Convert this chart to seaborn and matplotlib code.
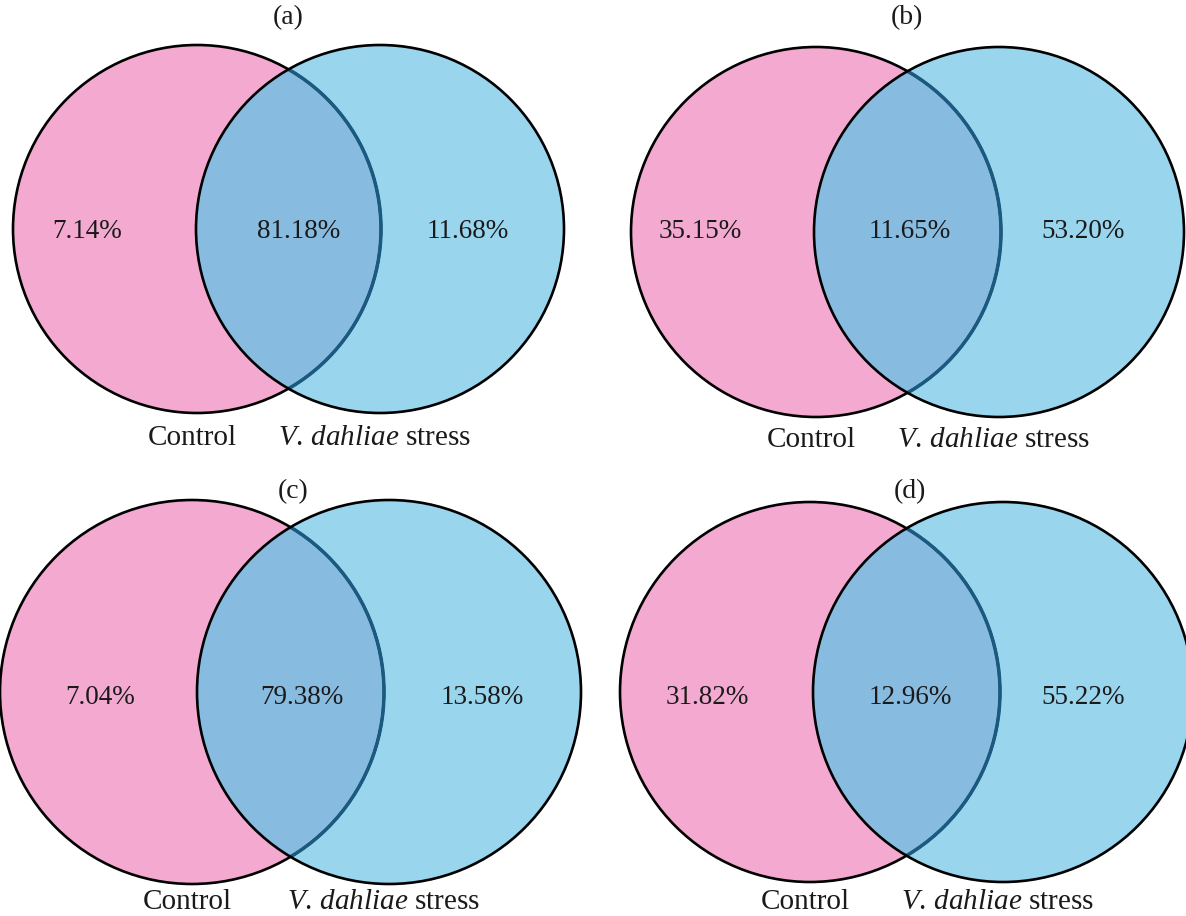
import matplotlib
matplotlib.use("Agg")
import matplotlib.pyplot as plt
import seaborn as sns
from matplotlib.patches import Ellipse

# Region shares (%) for each comparison
panel_tags = ["(a)", "(b)", "(c)", "(d)"]
set_names = ["Control", r"$\mathit{V.}\,\mathit{dahliae}$ stress"]
only_control = [7.14, 35.15, 7.04, 31.82]
shared = [81.18, 11.65, 79.38, 12.96]
only_stress = [11.68, 53.20, 13.58, 55.22]

# Geometry of each panel in canvas pixels: (left cx, right cx, cy, r)
geometry = [
    (197, 380, 229, 184),
    (816, 999, 232, 185),
    (192, 389, 692, 192),
    (810, 1003, 692, 190),
]
# x positions of the three region labels, and their y
label_x = [
    (87, 299, 468),
    (700, 910, 1083),
    (100, 302, 482),
    (707, 910, 1083),
]
label_y = [232, 232, 697, 697]
title_pos = [(288, 18), (907, 18), (293, 492), (910, 492)]
name_y = [438, 440, 902, 902]

PINK = "#f4aad0"
BLUE = "#9ad5ee"
OVERLAP = "#88bbe0"
DARK_EDGE = "#1b5a80"
INK = "#1a1a1a"

sns.set_theme(style="white")
plt.rcParams["font.family"] = ["Liberation Serif", "DejaVu Serif"]
plt.rcParams["mathtext.fontset"] = "custom"
plt.rcParams["mathtext.rm"] = "Liberation Serif"
plt.rcParams["mathtext.it"] = "Liberation Serif:italic"

W, H = 1186, 916
fig = plt.figure(figsize=(W / 100, H / 100), dpi=100)
ax = fig.add_axes([0, 0, 1, 1])
ax.set_xlim(0, W)
ax.set_ylim(H, 0)
ax.axis("off")

lw = 1.9
for i in range(4):
    lx, rx, cy, r = geometry[i]
    d = 2 * r
    left = Ellipse((lx, cy), d, d, facecolor=PINK, edgecolor="none", zorder=1)
    ax.add_patch(left)
    right = Ellipse((rx, cy), d, d, facecolor=BLUE, edgecolor="none", zorder=2)
    ax.add_patch(right)
    inter = Ellipse((rx, cy), d, d, facecolor=OVERLAP, edgecolor="none", zorder=3)
    ax.add_patch(inter)
    inter.set_clip_path(left)
    # outline of the control set: black outside, tinted inside the stress set
    left_out = Ellipse((lx, cy), d, d, facecolor="none", edgecolor="black", lw=lw, zorder=4)
    ax.add_patch(left_out)
    left_in = Ellipse((lx, cy), d, d, facecolor="none", edgecolor=DARK_EDGE, lw=lw + 0.6, zorder=5)
    ax.add_patch(left_in)
    clip_r = Ellipse((rx, cy), d - 2, d - 2, transform=ax.transData)
    ax.add_patch(clip_r)
    clip_r.set_visible(False)
    left_in.set_clip_path(clip_r)
    right_edge = Ellipse((rx, cy), d, d, facecolor="none", edgecolor="black", lw=lw, zorder=6)
    ax.add_patch(right_edge)

    vals = [only_control[i], shared[i], only_stress[i]]
    for x, v in zip(label_x[i], vals):
        ax.text(x, label_y[i], f"{v:.2f}%", ha="center", va="center",
                fontsize=19.5, color=INK, zorder=8)

    tx, ty = title_pos[i]
    ax.text(tx, ty, panel_tags[i], ha="center", va="center", fontsize=20,
            color=INK)
    ax.text(lx - 5, name_y[i], set_names[0], ha="center", va="center",
            fontsize=21, color=INK)
    ax.text(rx - 5, name_y[i], set_names[1], ha="center", va="center",
            fontsize=21, color=INK)

fig.savefig("out.png", dpi=100)
